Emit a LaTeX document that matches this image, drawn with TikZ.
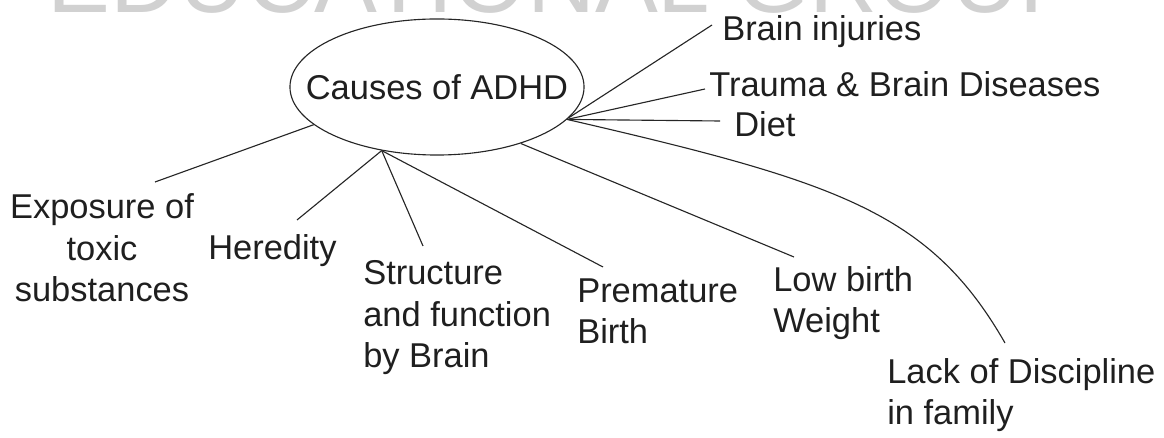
\documentclass[tikz,border=0pt]{standalone}
\usepackage{fontspec}
\setmainfont{Liberation Sans}
\usetikzlibrary{shapes.geometric}

\begin{document}
\begin{tikzpicture}[x=0.025cm,y=-0.025cm,
	lbl/.style={font=\fontsize{24.5}{29.8}\selectfont,text=black!88,inner sep=0pt,align=left,anchor=base west},
	ln/.style={line width=0.8pt,black!85}]

	\useasboundingbox (0,0) rectangle (1164,438);
	\begin{scope} \clip (0,0) rectangle (1164,438);
	\node[anchor=base west,inner sep=0pt,text=black!18,font=\fontsize{67}{67}\selectfont] (wm) at (47,13) {EDUCATIONAL GROUP};
	\end{scope}

	\node[ellipse,draw,ln,minimum width=7.35cm,minimum height=3.4cm,inner sep=0pt,
        label={[lbl,anchor=center]center:Causes of ADHD}] (adhd) at (437,87) {};

	\node[lbl] (brinj) at (722,41) {Brain injuries}; \node[lbl] (trauma)
        at (709,97) {Trauma \& Brain Diseases}; \node[lbl] (diet) at
        (734,137) {Diet};
	\node[lbl,align=center,anchor=base] (toxic) at (102,302)
        {Exposure of\\toxic\\substances}; \node[lbl] (hered) at (208,260)
        {Heredity}; \node[lbl] (struct) at (363,368) {Structure\\and
        function\\by Brain};
	\node[lbl] (prem) at (577,344) {Premature\\Birth}; \node[lbl] (lbw)
        at (773,333) {Low birth\\Weight}; \node[lbl] (disc) at (887,425)
        {Lack of Discipline\\in family};

	\coordinate (brinj-e) at (712,25); \coordinate (trauma-e) at
        (705,89); \coordinate (diet-e) at (720,121); \coordinate (toxic-e)
        at (155,182); \coordinate (hered-e) at (297,220); \coordinate
        (struct-e) at (423,246); \coordinate (prem-e) at (603,267);
        \coordinate (lbw-e) at (794,257); \coordinate (disc-e) at
        (1005,343);

	\draw[ln] (adhd.-13) -- (brinj-e); \draw[ln] (adhd.-14) --
        (trauma-e); \draw[ln] (adhd.-14) -- (diet-e); \draw[ln]
        (adhd.197.5) -- (toxic-e); \draw[ln] (adhd.229) -- (hered-e);
        \draw[ln] (adhd.229) -- (struct-e); \draw[ln] (adhd.229) --
        (prem-e); \draw[ln] (adhd.-34) -- (lbw-e);
	\draw[ln] (adhd.-14) .. controls (838,182) and (930,212) .. (disc-e);
      \end{tikzpicture}
\end{document}
